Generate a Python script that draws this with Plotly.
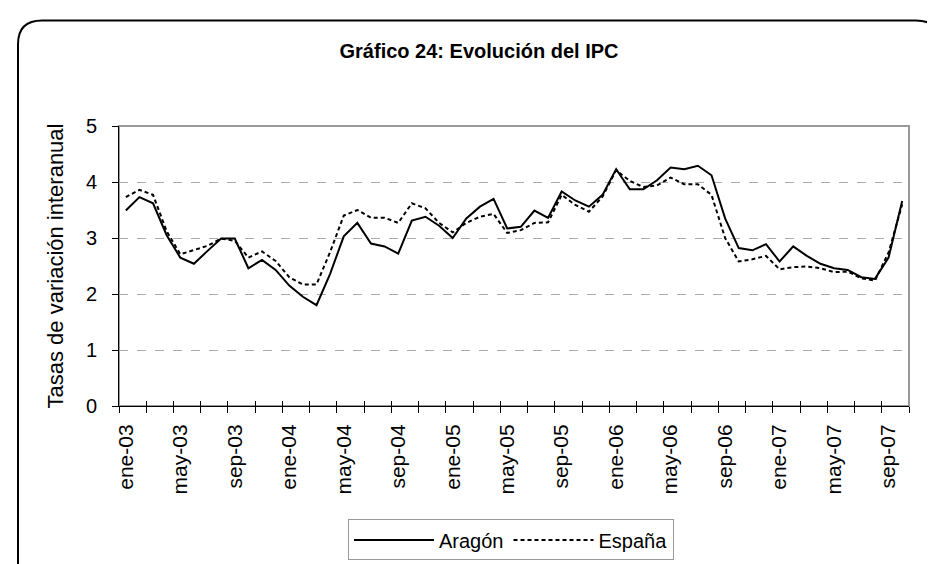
import plotly.graph_objects as go

# ---- data ----
meses = ["ene", "feb", "mar", "abr", "may", "jun", "jul", "ago", "sep", "oct", "nov", "dic"]
periodos = [f"{meses[m]}-{y:02d}" for y in range(3, 8) for m in range(12)][:58]

aragon = [3.49, 3.73, 3.62, 3.05, 2.65, 2.54, 2.77, 2.99, 2.99, 2.46,
          2.61, 2.43, 2.15, 1.95, 1.80, 2.36, 3.03, 3.27, 2.90, 2.85,
          2.72, 3.31, 3.38, 3.22, 3.00, 3.35, 3.56, 3.70, 3.17, 3.20,
          3.49, 3.36, 3.83, 3.67, 3.56, 3.77, 4.23, 3.87, 3.87, 4.03,
          4.26, 4.23, 4.29, 4.12, 3.35, 2.82, 2.78, 2.89, 2.58, 2.85,
          2.68, 2.54, 2.46, 2.43, 2.30, 2.27, 2.65, 3.66]
espana = [3.73, 3.86, 3.77, 3.12, 2.71, 2.79, 2.86, 2.99, 2.95, 2.65,
          2.76, 2.59, 2.30, 2.17, 2.17, 2.75, 3.40, 3.50, 3.36, 3.36,
          3.27, 3.62, 3.53, 3.27, 3.10, 3.27, 3.38, 3.43, 3.09, 3.14,
          3.27, 3.28, 3.77, 3.59, 3.47, 3.74, 4.21, 4.02, 3.91, 3.94,
          4.08, 3.96, 3.96, 3.77, 3.00, 2.58, 2.62, 2.68, 2.44, 2.48,
          2.49, 2.46, 2.39, 2.40, 2.28, 2.24, 2.74, 3.60]

etiquetas_idx = list(range(0, 58, 4))
etiquetas = [periodos[i] for i in etiquetas_idx]
y_ticks = [0, 1, 2, 3, 4, 5]

# ---- layout geometry ----
W, H = 935, 564
L, R, T, B = 111, 34, 118, 162
pw, ph = W - L - R, H - T - B
FONT = "Liberation Sans, Arial, sans-serif"

x = list(range(len(periodos)))
bounds = [i - 0.5 for i in range(0, len(periodos) + 1, 2)]

fig = go.Figure()
fig.add_trace(go.Scatter(x=x, y=aragon, name="Aragón", mode="lines",
                         line=dict(color="black", width=2)))
fig.add_trace(go.Scatter(x=x, y=espana, name="España", mode="lines",
                         line=dict(color="black", width=2, dash="4px,3px")))
# helper invisible trace for the overlay axis (inner part of the crossing ticks)
fig.add_trace(go.Scatter(x=[x[0]], y=[None], xaxis="x2", showlegend=False,
                         hoverinfo="skip", mode="lines"))

def px2paper_x(p):
    return (p - L) / pw

def px2paper_y(p):
    return (H - B - p) / ph

# rounded outer frame (bottom runs out of the picture)
xl, xr = px2paper_x(10), px2paper_x(932)
yt, yb = px2paper_y(11), px2paper_y(600)
rx, ry = 24 / pw, 24 / ph
frame = (f"M {xl},{yb} L {xl},{yt - ry} Q {xl},{yt} {xl + rx},{yt} "
         f"L {xr - rx},{yt} Q {xr},{yt} {xr},{yt - ry} L {xr},{yb}")

fig.update_layout(
    width=W, height=H,
    margin=dict(l=L, r=R, t=T, b=B),
    paper_bgcolor="white", plot_bgcolor="white",
    font=dict(family=FONT, color="black", size=20),
    title=dict(text="<b>Gráfico 24: Evolución del IPC</b>",
               font=dict(family=FONT, size=20, color="black"),
               x=471 / W, xref="container", xanchor="center",
               y=1 - 43 / H, yanchor="middle"),
    showlegend=True,
    legend=dict(orientation="h", x=px2paper_x(503), xanchor="center",
                y=px2paper_y(517), yanchor="top",
                bordercolor="#999999", borderwidth=1,
                font=dict(family=FONT, size=20),
                itemwidth=80, entrywidth=0, tracegroupgap=0),
    xaxis=dict(range=[-0.5, len(periodos) - 0.5],
               tickmode="array", tickvals=etiquetas_idx, ticktext=etiquetas,
               tickangle=-90, ticks="outside", ticklen=9,
               tickcolor="rgba(0,0,0,0)",
               tickfont=dict(family=FONT, size=21),
               showline=True, linecolor="black", linewidth=1,
               showgrid=False, zeroline=False,
               minor=dict(tickmode="array", tickvals=bounds, ticks="outside",
                          ticklen=6, tickcolor="black", tickwidth=1,
                          showgrid=False)),
    xaxis2=dict(overlaying="x", matches="x", anchor="y", side="bottom",
                tickmode="array", tickvals=bounds, ticks="inside",
                ticklen=5, tickcolor="black", showticklabels=False,
                showline=False, showgrid=False, zeroline=False),
    yaxis=dict(range=[0, 5], tickmode="array", tickvals=y_ticks,
               ticks="outside", ticklen=6, tickcolor="black",
               ticklabelstandoff=11,
               tickfont=dict(family=FONT, size=20),
               showline=True, linecolor="black", linewidth=1,
               showgrid=True, gridcolor="#aaaaaa", griddash="dash",
               gridwidth=1, zeroline=False,
               title=dict(text="Tasas de variación interanual",
                          font=dict(family=FONT, size=22), standoff=16)),
    shapes=[
        dict(type="rect", xref="paper", yref="paper", x0=0, x1=1, y0=0, y1=1,
             line=dict(color="#999999", width=2), layer="below"),
        dict(type="path", xref="paper", yref="paper", path=frame,
             line=dict(color="black", width=2)),
    ],
)

fig.write_html("out.html")
